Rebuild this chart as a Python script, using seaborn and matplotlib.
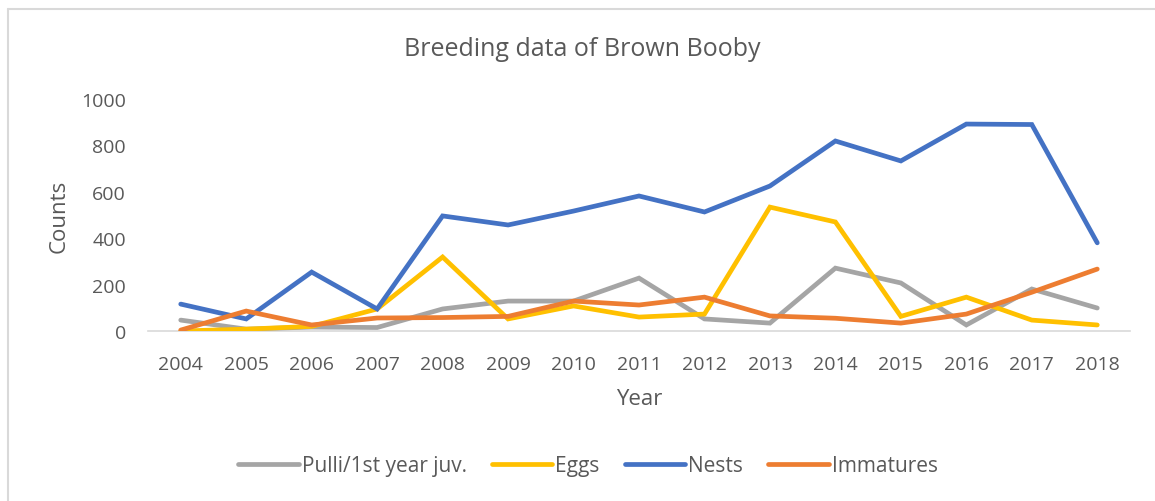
import matplotlib
matplotlib.use("Agg")
import matplotlib.pyplot as plt
from matplotlib.lines import Line2D
import seaborn as sns
import pandas as pd

years = [2004, 2005, 2006, 2007, 2008, 2009, 2010, 2011, 2012, 2013, 2014, 2015, 2016, 2017, 2018]
pulli = [47, 8, 17, 15, 95, 129, 129, 228, 52, 34, 271, 207, 26, 181, 99]
eggs = [0, 8, 20, 95, 319, 52, 108, 60, 73, 534, 470, 63, 146, 47, 26]
nests = [116, 52, 254, 95, 496, 457, 517, 582, 513, 625, 819, 733, 892, 890, 380]
immatures = [4, 86, 26, 56, 58, 63, 129, 112, 146, 65, 55, 34, 73, 167, 267]

series_names = ["Pulli/1st year juv.", "Eggs", "Nests", "Immatures"]
series_values = [pulli, eggs, nests, immatures]
colors = ["#A5A5A5", "#FFC000", "#4472C4", "#ED7D31"]

rows = []
for name, vals in zip(series_names, series_values):
    for i, (yr, v) in enumerate(zip(years, vals)):
        rows.append({"pos": i, "Year": str(yr), "Counts": v, "Series": name})
df = pd.DataFrame(rows)

sns.set_theme(style="white")
plt.rcParams["font.family"] = ["Open Sans", "DejaVu Sans"]
text_color = "#595959"

fig = plt.figure(figsize=(11.55, 5.02), dpi=100)
ax = fig.add_axes([148 / 1155, 1 - 332 / 502, (1130 - 148) / 1155, (332 - 100) / 502])

sns.lineplot(data=df, x="pos", y="Counts", hue="Series", hue_order=series_names,
             palette=colors, linewidth=3.4, ax=ax, legend=False, sort=False,
             solid_capstyle="round", solid_joinstyle="miter")

ax.set_xlim(-0.5, len(years) - 0.5)
ax.set_ylim(0, 1000)
ax.set_xticks(range(len(years)))
ax.set_xticklabels([str(y) for y in years])
ax.set_yticks([0, 200, 400, 600, 800, 1000])
ax.tick_params(axis="x", length=0, pad=17, labelsize=14, labelcolor=text_color)
ax.tick_params(axis="y", length=0, pad=16, labelsize=14, labelcolor=text_color)

for side in ["top", "right", "left"]:
    ax.spines[side].set_visible(False)
ax.spines["bottom"].set_color("#D9D9D9")
ax.spines["bottom"].set_linewidth(1.2)
ax.spines["bottom"].set_zorder(0)

ax.set_xlabel("Year", fontsize=16, color=text_color, labelpad=11)
ax.set_ylabel("Counts", fontsize=16, color=text_color, labelpad=8)

fig.text(582 / 1155, 1 - 50 / 502, "Breeding data of Brown Booby", ha="center", va="center",
         fontsize=18, color=text_color)

handles = [Line2D([0], [0], color=c, linewidth=3.4, solid_capstyle="round") for c in colors]
fig.legend(handles, series_names, loc="center", bbox_to_anchor=(588 / 1155, 1 - 467 / 502),
           ncol=4, frameon=False, fontsize=15, labelcolor=text_color,
           handlelength=2.9, handletextpad=0.15, columnspacing=1.2)

# chart-area frame (left and top edges)
frame_color = "#D9D9D9"
fig.add_artist(Line2D([8 / 1155, 8 / 1155], [0, 1 - 10 / 502], transform=fig.transFigure,
                      color=frame_color, linewidth=1.5))
fig.add_artist(Line2D([8 / 1155, 1], [1 - 10 / 502, 1 - 10 / 502], transform=fig.transFigure,
                      color=frame_color, linewidth=1.5))

fig.savefig("out.png", dpi=100, facecolor="white")
